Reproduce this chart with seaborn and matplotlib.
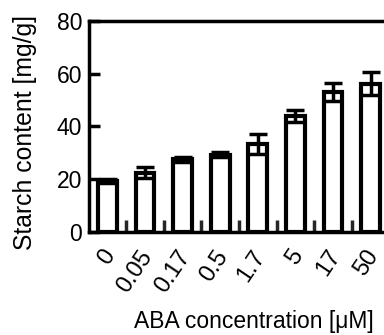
import matplotlib
matplotlib.use("Agg")
import matplotlib.pyplot as plt
import matplotlib.transforms as mtrans
import seaborn as sns
import numpy as np
import pandas as pd

concentrations = ["0", "0.05", "0.17", "0.5", "1.7", "5", "17", "50"]
starch = [19.5, 22.5, 27.5, 29.3, 33.5, 43.8, 53.0, 56.2]
starch_err = [0.8, 2.0, 1.0, 1.0, 3.8, 2.3, 3.3, 4.3]

sns.set_theme(style="ticks")
plt.rcParams['font.family'] = ['Liberation Sans', 'DejaVu Sans']

df = pd.DataFrame({"conc": concentrations, "starch": starch})

fig = plt.figure(figsize=(3.84, 3.35), dpi=100)
ax = fig.add_axes([0.232, 0.307, 0.781, 0.631])

sns.barplot(data=df, x="conc", y="starch", order=concentrations, color="white",
            edgecolor="black", linewidth=3, width=0.5, errorbar=None, ax=ax)
for p in ax.patches:
    p.set_facecolor("white")
xs = np.arange(len(concentrations))
ax.errorbar(xs, starch, yerr=starch_err, fmt="none", ecolor="black",
            elinewidth=2.5, capsize=6.5, capthick=2.5, zorder=5)

ax.set_ylim(0, 80)
ax.set_yticks([0, 20, 40, 60, 80])
ax.set_xlim(-0.49, 7.49)
ax.tick_params(axis="y", direction="in", length=8, width=2.5, labelsize=16.5, pad=5,
               colors="black")
ax.tick_params(axis="x", which="major", length=0, labelsize=17, pad=13,
               colors="black")
ax.set_xticks(np.arange(0.5, 7.5, 1), minor=True)
ax.tick_params(axis="x", which="minor", direction="in", length=8.5, width=2.5)
ax.set_xticklabels(concentrations, rotation=56, ha="right", va="center",
                   rotation_mode="anchor")
offset = mtrans.ScaledTranslation(3 / 100, -2 / 100, fig.dpi_scale_trans)
for lab in ax.get_xticklabels():
    lab.set_transform(lab.get_transform() + offset)
for s in ax.spines.values():
    s.set_linewidth(2.5)
    s.set_color("black")
ax.set_xlabel("ABA concentration [μM]", fontsize=16.5, color="black")
ax.xaxis.set_label_coords(0.55, -0.367)
ax.set_ylabel("Starch content [mg/g]", fontsize=17.8, color="black")
ax.yaxis.set_label_coords(-0.175, 0.471)

fig.savefig("out.png", dpi=100)
